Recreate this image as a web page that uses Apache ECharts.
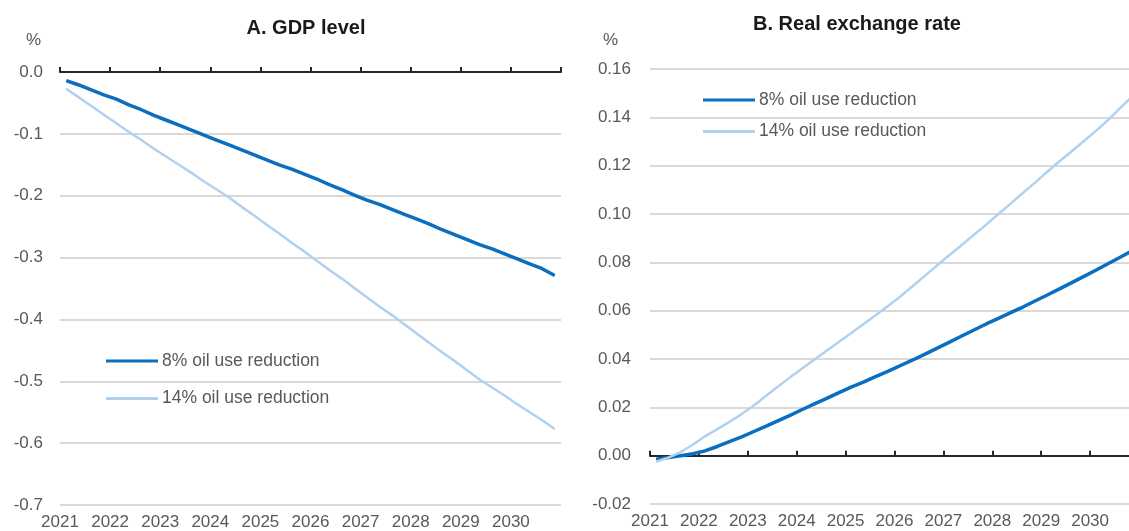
<!DOCTYPE html>
<html>
<head>
<meta charset="utf-8">
<script src="https://cdn.jsdelivr.net/npm/echarts@6/dist/echarts.min.js"></script>
<style>
  html, body { margin: 0; padding: 0; background: #ffffff; }
  #chart { width: 1129px; height: 531px; }
</style>
</head>
<body>
<div id="chart"></div>
<script>
// Years shown on the time axis; series are quarterly, 2021Q1 to 2030Q4
const years = [2021, 2022, 2023, 2024, 2025, 2026, 2027, 2028, 2029, 2030];
const seriesNames = ['8% oil use reduction', '14% oil use reduction'];
const panelTitles = ['A. GDP level', 'B. Real exchange rate'];

// Panel A: GDP level, % deviation
const gdp8 = [
  -0.014, -0.021, -0.029, -0.037, -0.044, -0.053, -0.061, -0.070,
  -0.078, -0.086, -0.094, -0.102, -0.110, -0.118, -0.126, -0.134,
  -0.142, -0.150, -0.157, -0.165, -0.173, -0.182, -0.190, -0.199,
  -0.207, -0.214, -0.222, -0.230, -0.238, -0.246, -0.255, -0.263,
  -0.271, -0.279, -0.286, -0.294, -0.302, -0.310, -0.318, -0.329
];
const gdp14 = [
  -0.027, -0.041, -0.055, -0.069, -0.083, -0.097, -0.110, -0.124,
  -0.137, -0.150, -0.163, -0.177, -0.190, -0.203, -0.218, -0.232,
  -0.247, -0.261, -0.276, -0.290, -0.305, -0.320, -0.334, -0.349,
  -0.364, -0.379, -0.393, -0.408, -0.423, -0.438, -0.453, -0.467,
  -0.482, -0.497, -0.510, -0.523, -0.537, -0.550, -0.563, -0.577
];

// Panel B: real exchange rate, % deviation
const rer8 = [
  -0.0015, -0.0008, 0.0000, 0.0008, 0.0020, 0.0038, 0.0058, 0.0078,
  0.0100, 0.0122, 0.0145, 0.0168, 0.0192, 0.0215, 0.0238, 0.0262,
  0.0285, 0.0305, 0.0328, 0.0350, 0.0373, 0.0396, 0.0420, 0.0445,
  0.0470, 0.0495, 0.0520, 0.0545, 0.0568, 0.0592, 0.0615, 0.0640,
  0.0665, 0.0690, 0.0716, 0.0742, 0.0768, 0.0795, 0.0822, 0.0850
];
const rer14 = [
  -0.0025, -0.0008, 0.0015, 0.0045, 0.0080, 0.0110, 0.0140, 0.0172,
  0.0208, 0.0248, 0.0287, 0.0326, 0.0363, 0.0400, 0.0436, 0.0472,
  0.0509, 0.0546, 0.0583, 0.0620, 0.0660, 0.0702, 0.0745, 0.0788,
  0.0830, 0.0872, 0.0914, 0.0956, 0.1000, 0.1043, 0.1087, 0.1130,
  0.1175, 0.1218, 0.1260, 0.1302, 0.1345, 0.1390, 0.1440, 0.1490
];

const DARK = '#0a6fc0';
const LIGHT = '#b2d1ee';
const FONT = '"Liberation Sans", Arial, sans-serif';
const LABEL = '#595959';

const firstYear = years[0];
const lastYear = years[years.length - 1] + 1;

// place each quarterly value at the middle of its quarter
function quarterly(values) {
  return values.map((v, i) => [firstYear + (i + 0.5) / 4, v]);
}

function labelAxis(gridIndex) {
  return {
    type: 'value', gridIndex, position: 'bottom',
    min: firstYear, max: lastYear, interval: 1,
    axisLine: { show: false, onZero: false },
    axisTick: { show: false },
    splitLine: { show: false },
    axisLabel: {
      color: LABEL, fontFamily: FONT, fontSize: 17, margin: 9,
      formatter: v => (v >= lastYear ? '' : String(v))
    }
  };
}

function zeroAxis(gridIndex) {
  return {
    type: 'value', gridIndex, position: 'top',
    min: firstYear, max: lastYear, interval: 1,
    axisLine: { show: true, onZero: true, lineStyle: { color: '#262626', width: 2 } },
    axisTick: { show: true, inside: false, length: 5, lineStyle: { color: '#262626', width: 2 } },
    axisLabel: { show: false },
    splitLine: { show: false }
  };
}

function valueAxis(gridIndex, min, max, interval, digits, margin) {
  return {
    type: 'value', gridIndex, min, max, interval,
    axisLine: { show: false },
    axisTick: { show: false },
    splitLine: { show: true, lineStyle: { color: '#d9d9d9', width: 2 } },
    axisLabel: {
      color: LABEL, fontFamily: FONT, fontSize: 17, margin,
      formatter: v => v.toFixed(digits)
    }
  };
}

function lineSeries(name, values, axisIndex, color, width) {
  return {
    name, type: 'line', xAxisIndex: axisIndex, yAxisIndex: axisIndex,
    data: quarterly(values), showSymbol: false, symbol: 'none',
    lineStyle: { color, width }, itemStyle: { color },
    emphasis: { disabled: true }, z: 3
  };
}

function legendAt(left, top, gap) {
  return {
    orient: 'vertical', left, top, itemGap: gap,
    icon: 'rect', itemWidth: 52, itemHeight: 3, padding: 5,
    textStyle: { color: LABEL, fontFamily: FONT, fontSize: 17.5, padding: [0, 0, 0, -1] },
    data: seriesNames
  };
}

const titleStyle = { fontFamily: FONT, fontSize: 20, fontWeight: 'bold', color: '#1a1a1a' };
const unitStyle = { fontFamily: FONT, fontSize: 17, fontWeight: 'normal', color: LABEL };

const chart = echarts.init(document.getElementById('chart'), null, { renderer: 'canvas' });

chart.setOption({
  animation: false,
  backgroundColor: '#ffffff',
  title: [
    { text: panelTitles[0], left: 306, top: 18, padding: 0, textAlign: 'center', textStyle: titleStyle },
    { text: panelTitles[1], left: 857, top: 14, padding: 0, textAlign: 'center', textStyle: titleStyle },
    { text: '%', left: 26, top: 32, padding: 0, textStyle: unitStyle },
    { text: '%', left: 603, top: 32, padding: 0, textStyle: unitStyle }
  ],
  legend: [legendAt(101, 347, 19.5), legendAt(698, 86, 13.5)],
  grid: [
    { left: 60, top: 72, width: 501, height: 433, outerBoundsMode: 'none' },
    { left: 650, top: 69, width: 489, height: 435, outerBoundsMode: 'none' }
  ],
  xAxis: [labelAxis(0), labelAxis(1), zeroAxis(0), zeroAxis(1)],
  yAxis: [
    valueAxis(0, -0.7, 0, 0.1, 1, 17),
    valueAxis(1, -0.02, 0.16, 0.02, 2, 19)
  ],
  series: [
    lineSeries(seriesNames[0], gdp8, 0, DARK, 3.5),
    lineSeries(seriesNames[1], gdp14, 0, LIGHT, 2.5),
    lineSeries(seriesNames[0], rer8, 1, DARK, 3.5),
    lineSeries(seriesNames[1], rer14, 1, LIGHT, 2.5)
  ]
});
</script>
</body>
</html>
